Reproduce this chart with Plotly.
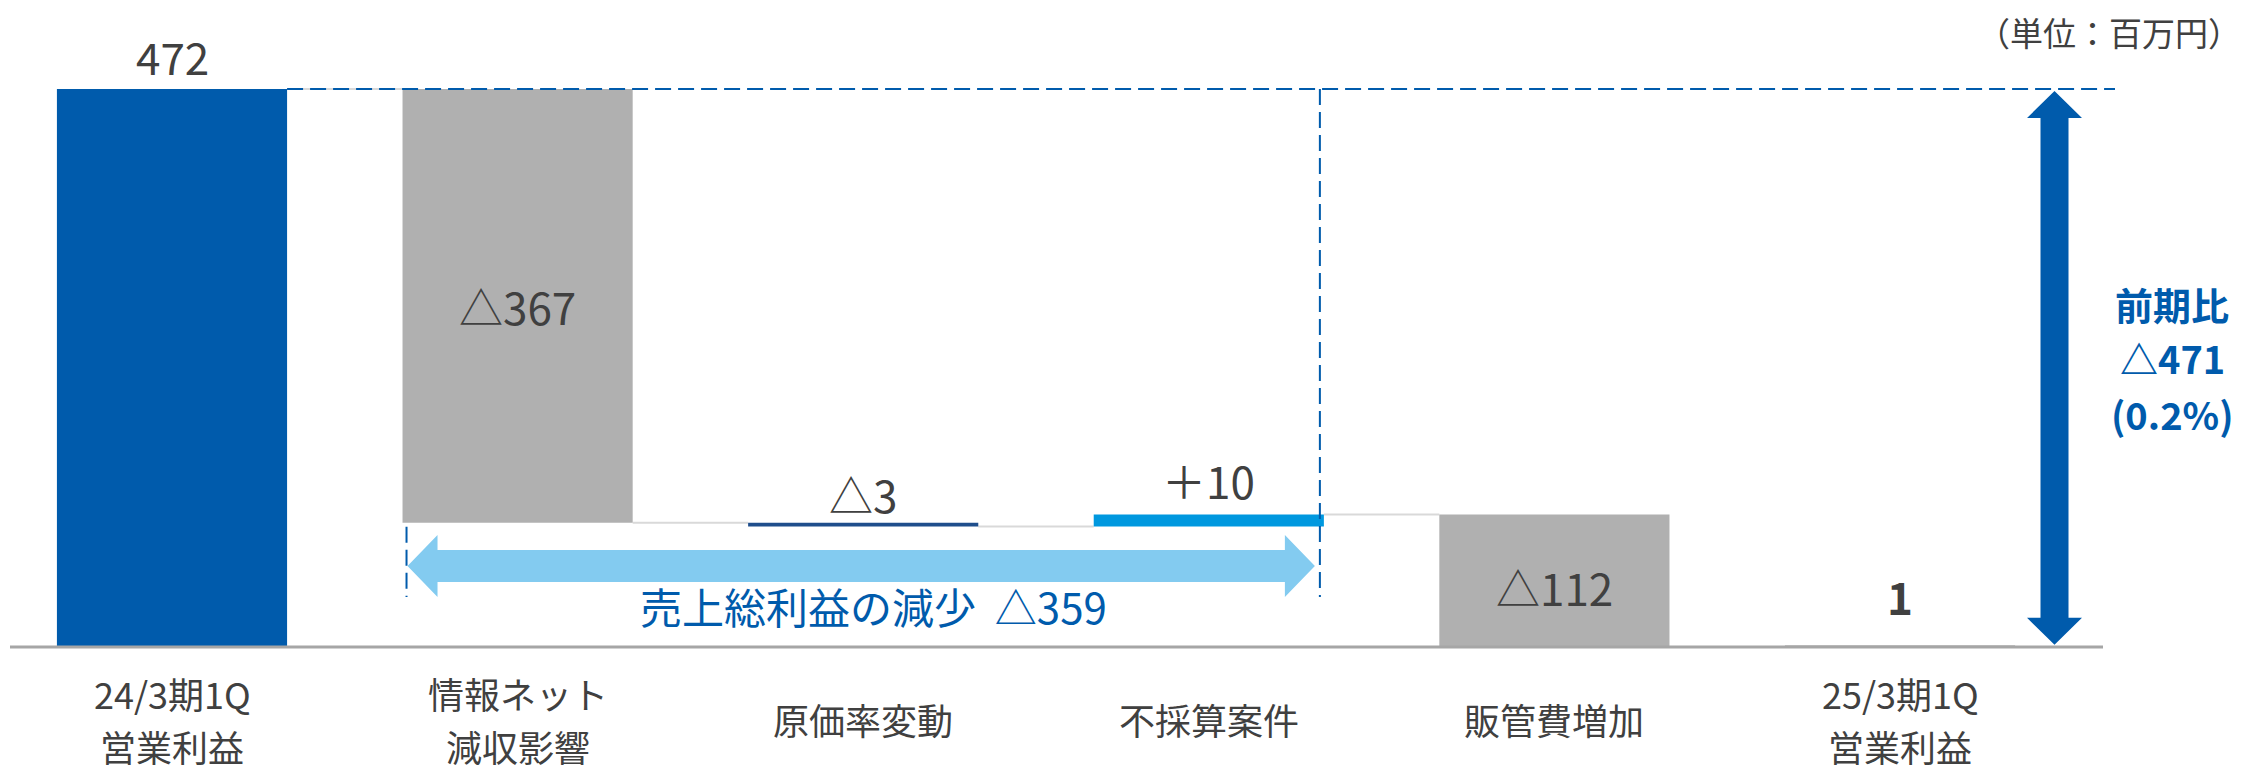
import plotly.graph_objects as go

# ---------------- data ----------------
categories = ["24/3期1Q<br>営業利益", "情報ネット<br>減収影響", "原価率変動",
              "不採算案件", "販管費増加", "25/3期1Q<br>営業利益"]
values = [472, -367, -3, 10, -112, 1]
measures = ["total", "relative", "relative", "relative", "relative", "total"]
value_labels = ["472", "△367", "△3", "＋10", "△112", "1"]
gross_profit_label = "売上総利益の減少  △359"
gross_profit_span = [1, 3]          # categories covered by the gross-profit bracket
yoy_label = "前期比<br>△471<br>(0.2%)"
unit_label = "（単位：百万円）"

# ---------------- styles ----------------
bar_colors = ["#005BAC", "#B0B0B0", "#1F4E8C", "#0098DF", "#B0B0B0", "#C8C8C8"]
label_inside = [False, True, False, False, True, False]
label_shift = [33, 0, 29, 35, -6, 50]
label_bold = [False, False, False, False, False, True]
FONT = "Noto Sans CJK JP"
TXT = "#404040"
BLUE = "#005BAC"
LIGHT = "#83CBF0"
BAR_W = 0.666

# page offset (browser body margin) compensation
OFF = 8
W, H = 2245 - OFF, 774 - OFF
ppx = 345.6                      # px per category
ppy = 1.1822                     # px per unit
x0_px = 172 - OFF                # pixel of category 0 centre
base_px = 647 - OFF              # pixel of value 0
x_range = [-x0_px / ppx, (W - x0_px) / ppx]
y_range = [-(H - base_px) / ppy, base_px / ppy]


def px_x(rx):
    return (rx - OFF - x0_px) / ppx


def paper_x(rx):
    return (rx - OFF) / W


def paper_y(ry):
    return 1 - (ry - OFF) / H


# ---------------- waterfall geometry ----------------
bases, heights, levels = [], [], []
running = 0
for v, m in zip(values, measures):
    if m == "total":
        bases.append(0)
        heights.append(v)
        running = v
    else:
        bases.append(running if v > 0 else running + v)
        heights.append(abs(v))
        running += v
    levels.append(running)

xs = list(range(len(categories)))
fig = go.Figure()
fig.add_trace(go.Bar(x=xs, y=heights, base=bases, width=BAR_W,
                     marker=dict(color=bar_colors, line=dict(width=0)),
                     hoverinfo="skip"))

shapes = []
# connectors
for i in range(len(xs) - 1):
    shapes.append(dict(type="line", xref="x", yref="y",
                       x0=xs[i] + BAR_W / 2, x1=xs[i + 1] - BAR_W / 2,
                       y0=levels[i], y1=levels[i], layer="below",
                       line=dict(color="#D9D9D9", width=2)))
# baseline
shapes.append(dict(type="line", xref="x", yref="y",
                   x0=px_x(10), x1=px_x(2103), y0=0, y1=0,
                   line=dict(color="#A6A6A6", width=3)))

start_total = values[0]
end_total = values[-1]
dash = "16px,7px"
# top dashed reference line
shapes.append(dict(type="line", xref="x", yref="y",
                   x0=xs[0] + BAR_W / 2, x1=px_x(2115), y0=start_total, y1=start_total,
                   line=dict(color=BLUE, width=2, dash=dash)))
# bracket dashed verticals
lx = gross_profit_span[0] - BAR_W / 2 + 4 / ppx
rx = gross_profit_span[1] + BAR_W / 2 - 4 / ppx
y_low = 50 / ppy
shapes.append(dict(type="line", xref="x", yref="y", x0=lx, x1=lx,
                   y0=levels[gross_profit_span[0]] - 4 / ppy, y1=y_low,
                   line=dict(color=BLUE, width=2, dash=dash)))
shapes.append(dict(type="line", xref="x", yref="y", x0=rx, x1=rx,
                   y0=start_total, y1=y_low,
                   line=dict(color=BLUE, width=2, dash=dash)))

# light-blue horizontal double arrow
ay = 81 / ppy
sh, hh, hl = 16 / ppy, 31 / ppy, 30 / ppx
ax0, ax1 = lx + 1 / ppx, rx - 5 / ppx
p = (f"M {ax0} {ay} L {ax0+hl} {ay+hh} L {ax0+hl} {ay+sh} L {ax1-hl} {ay+sh} "
     f"L {ax1-hl} {ay+hh} L {ax1} {ay} L {ax1-hl} {ay-hh} L {ax1-hl} {ay-sh} "
     f"L {ax0+hl} {ay-sh} L {ax0+hl} {ay-hh} Z")
shapes.append(dict(type="path", xref="x", yref="y", path=p,
                   fillcolor=LIGHT, line=dict(width=0)))

# blue vertical double arrow
vx = px_x(2054.5)
sw, hw, vl = 14 / ppx, 27.5 / ppx, 27 / ppy
vy1 = start_total - 2 / ppy
vy0 = end_total + 1 / ppy
p2 = (f"M {vx} {vy1} L {vx+hw} {vy1-vl} L {vx+sw} {vy1-vl} L {vx+sw} {vy0+vl} "
      f"L {vx+hw} {vy0+vl} L {vx} {vy0} L {vx-hw} {vy0+vl} L {vx-sw} {vy0+vl} "
      f"L {vx-sw} {vy1-vl} L {vx-hw} {vy1-vl} Z")
shapes.append(dict(type="path", xref="x", yref="y", path=p2,
                   fillcolor=BLUE, line=dict(width=0)))

annotations = []
# value labels
for i, t in enumerate(value_labels):
    if label_inside[i]:
        yv = bases[i] + heights[i] / 2
    else:
        yv = bases[i] + heights[i]
    txt = f"<b>{t}</b>" if label_bold[i] else t
    annotations.append(dict(x=xs[i], y=yv, xref="x", yref="y", text=txt,
                            showarrow=False, yanchor="middle", yshift=label_shift[i],
                            font=dict(family=FONT, size=44, color=TXT)))

# category labels: one text per line, stacked below the baseline
CAT_FS = 36
cat_step = 53
for i, c in enumerate(categories):
    lines = c.split("<br>")
    n = len(lines)
    centre = 719 - 647
    for k, ln in enumerate(lines):
        off = centre + (k - (n - 1) / 2) * cat_step
        annotations.append(dict(x=xs[i], y=0, xref="x", yref="y", text=ln,
                                showarrow=False, yanchor="middle", yshift=-off,
                                font=dict(family=FONT, size=CAT_FS, color=TXT)))

# gross profit text
annotations.append(dict(x=px_x(873), y=0, xref="x", yref="y", text=gross_profit_label,
                        showarrow=False, yanchor="middle", yshift=42,
                        font=dict(family=FONT, size=42, color=BLUE)))

# yoy text: one text per line
yoy_lines = yoy_label.split("<br>")
yoy_step = 55
for k, ln in enumerate(yoy_lines):
    ry = 358 + (k - (len(yoy_lines) - 1) / 2) * yoy_step
    annotations.append(dict(x=paper_x(2172), y=paper_y(ry), xref="paper", yref="paper",
                            text=f"<b>{ln}</b>", showarrow=False,
                            xanchor="center", yanchor="middle",
                            font=dict(family=FONT, size=38, color=BLUE)))

# unit text
annotations.append(dict(x=paper_x(2243), y=paper_y(32), xref="paper", yref="paper",
                        text=unit_label, showarrow=False,
                        xanchor="right", yanchor="middle",
                        font=dict(family=FONT, size=33, color=TXT)))

fig.update_layout(
    width=W, height=H, margin=dict(l=0, r=0, t=0, b=0),
    paper_bgcolor="white", plot_bgcolor="white", showlegend=False,
    xaxis=dict(range=x_range, visible=False, fixedrange=True),
    yaxis=dict(range=y_range, visible=False, fixedrange=True),
    shapes=shapes, annotations=annotations,
)
fig.write_html("out.html")
